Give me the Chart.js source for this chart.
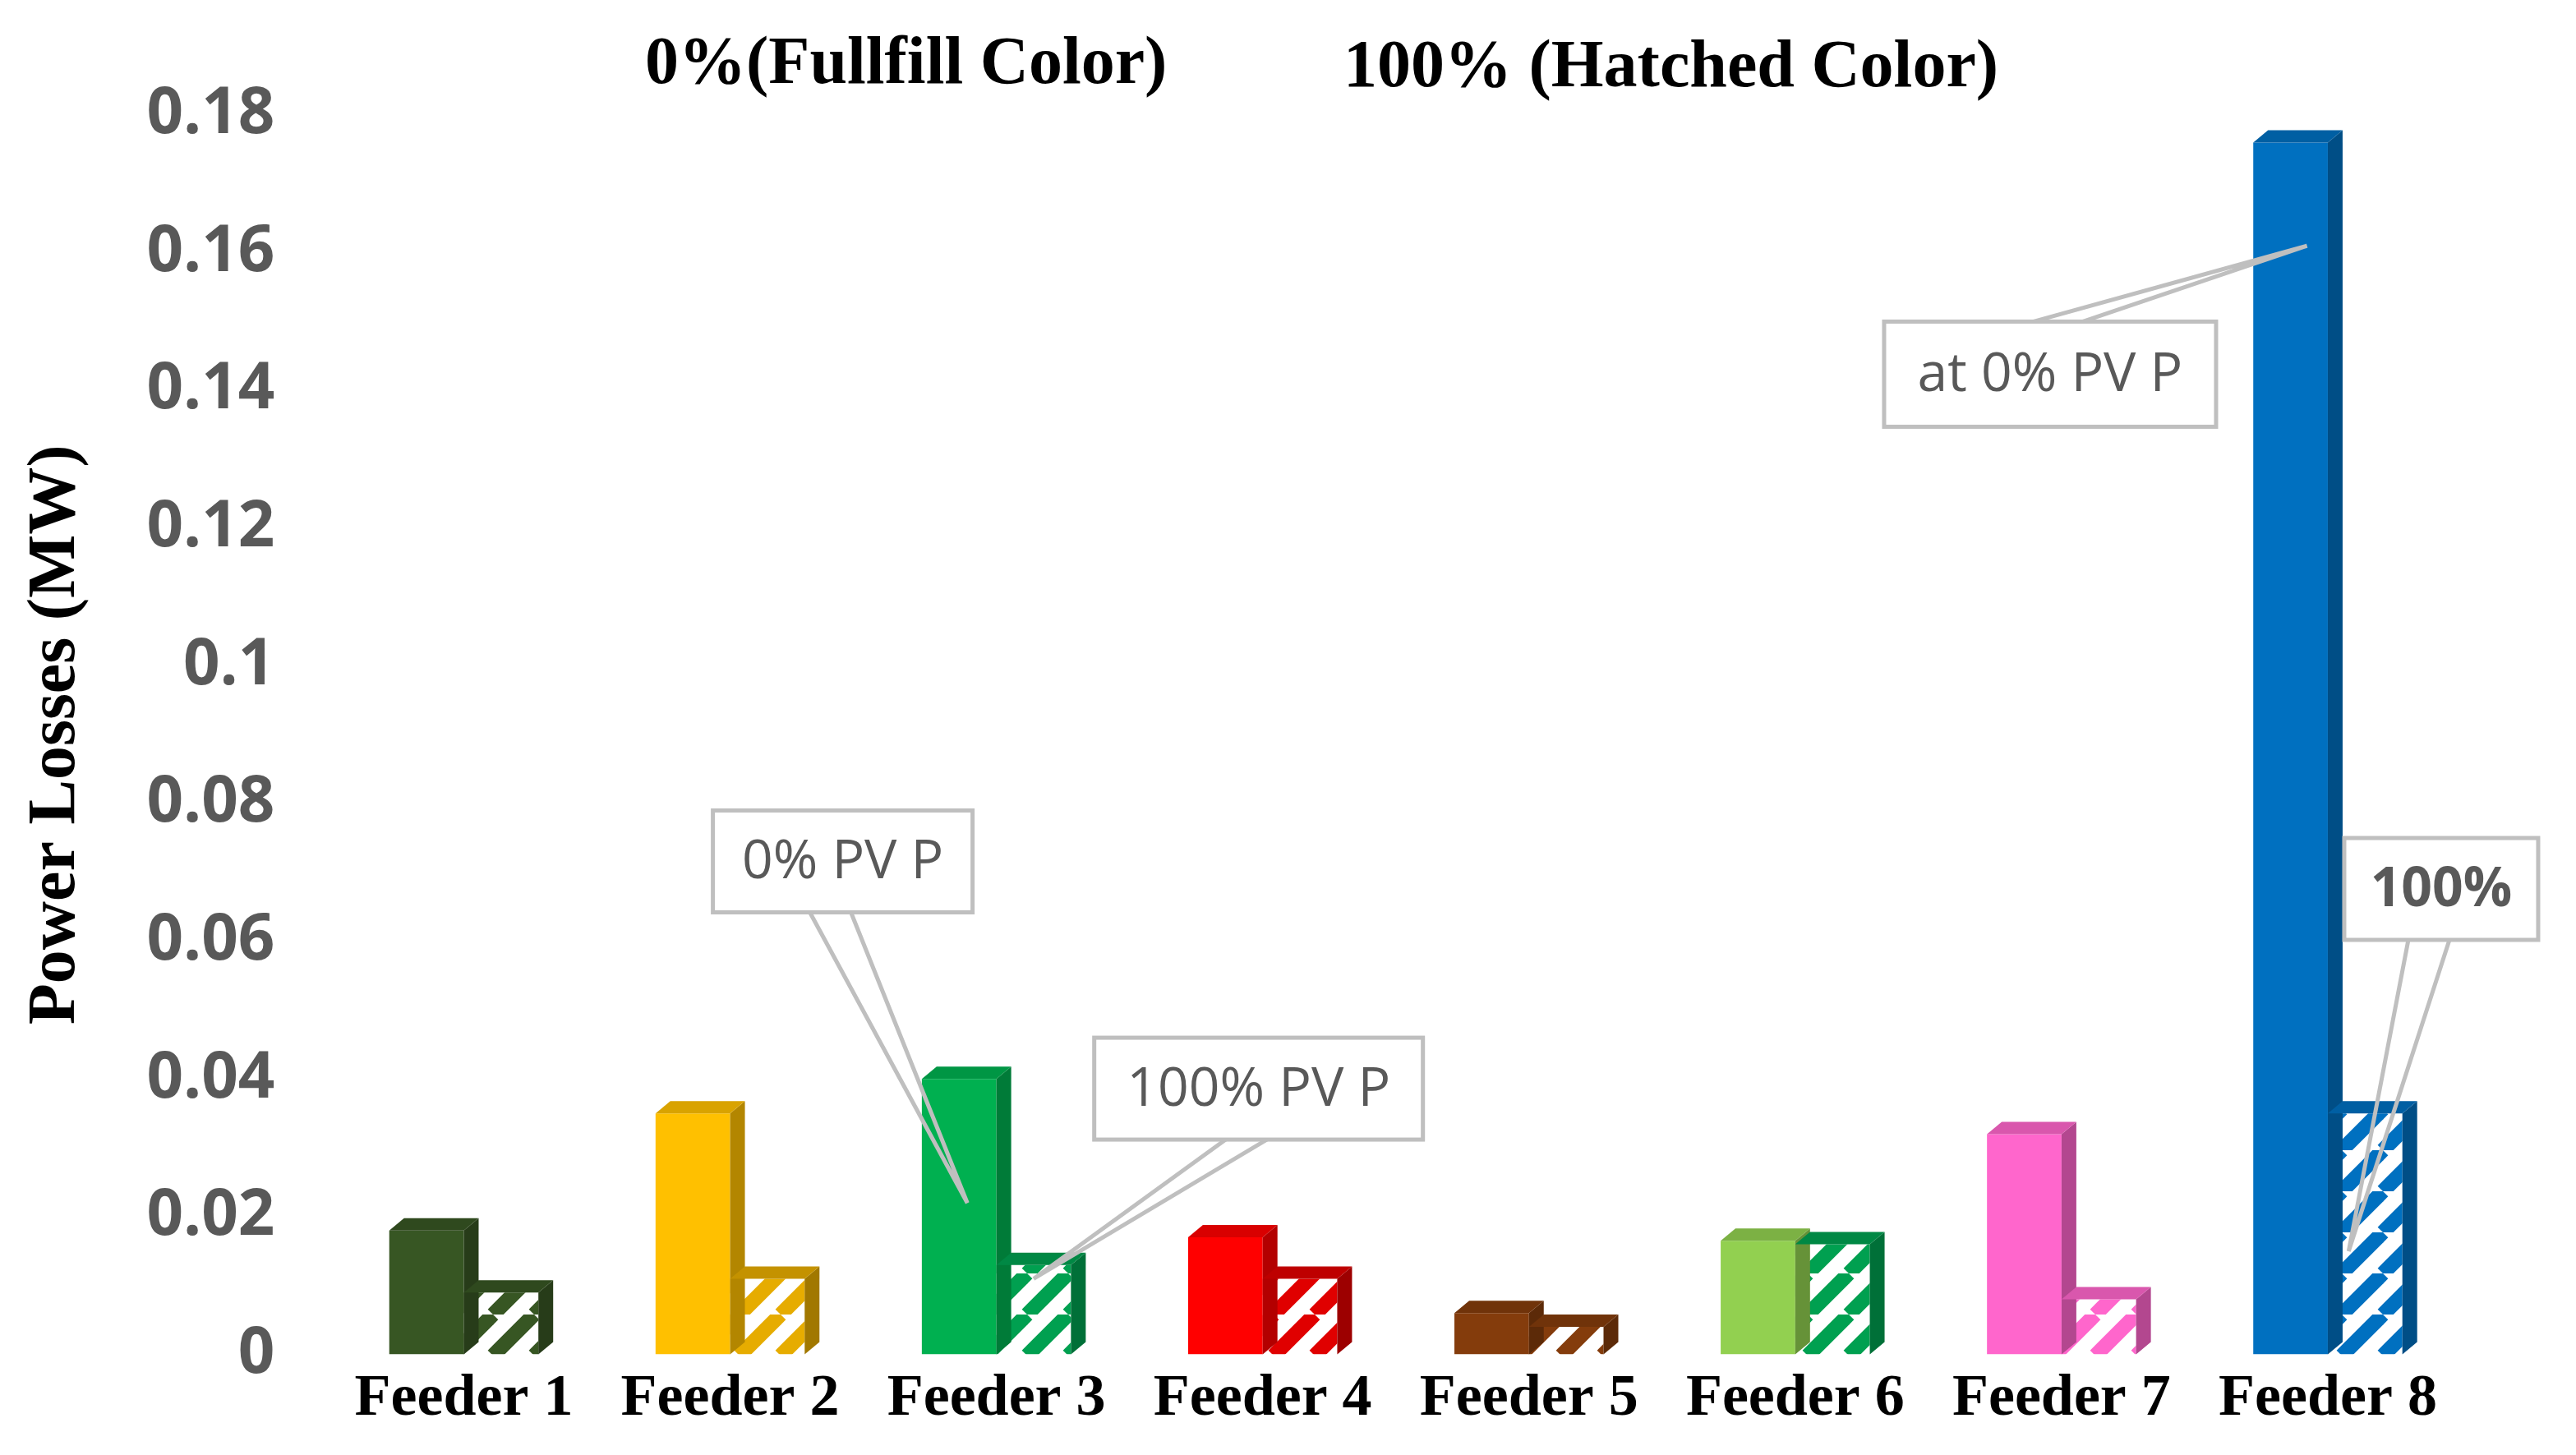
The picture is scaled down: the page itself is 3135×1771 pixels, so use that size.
<!DOCTYPE html>
<html><head><meta charset="utf-8">
<script src="https://cdn.jsdelivr.net/npm/chart.js@4/dist/chart.umd.min.js"></script>
<style>html,body{margin:0;padding:0;background:#fff}#wrap{width:3135px;height:1771px;position:relative}</style>
</head><body><div id="wrap"><canvas id="c" width="3135" height="1771"></canvas></div>
<script>
const categories=["Feeder 1","Feeder 2","Feeder 3","Feeder 4","Feeder 5","Feeder 6","Feeder 7","Feeder 8"];
const loss0=[0.018,0.035,0.040,0.017,0.006,0.0165,0.032,0.176];
const loss100=[0.009,0.011,0.013,0.011,0.004,0.016,0.008,0.035];
const colors=["#375623","#FFC000","#00B050","#FF0000","#843C0C","#92D050","#FF66CC","#0070C0"];
const hatchColors=["#375623","#E6AC00","#00A050","#E00000","#843C0C","#00A050","#FF66CC","#0070C0"];
const yTicks=[0,0.02,0.04,0.06,0.08,0.1,0.12,0.14,0.16,0.18];

function shade(hex,f){const n=parseInt(hex.slice(1),16);let r=n>>16,g=(n>>8)&255,b=n&255;
return `rgb(${Math.round(r*f)},${Math.round(g*f)},${Math.round(b*f)})`;}
function hatch(col){const s=50,cv=document.createElement('canvas');cv.width=s;cv.height=s;const x=cv.getContext('2d');
x.fillStyle='#fff';x.fillRect(0,0,s,s);x.strokeStyle=col;x.lineWidth=18;
for(let k=-1;k<=1;k++){x.beginPath();x.moveTo(k*s,s);x.lineTo(k*s+s,0);x.stroke();}
return x.createPattern(cv,'repeat');}
const ctx0=document.getElementById('c').getContext('2d');

const depth=30;
const bar3d={id:'bar3d',afterDatasetsDraw(ch){const c=ch.ctx;
 ch.data.datasets.forEach((ds,di)=>{ch.getDatasetMeta(di).data.forEach((b,i)=>{
  const col=di===0?colors[i]:hatchColors[i];const l=b.x-b.width/2,r=b.x+b.width/2,t=b.y,bt=b.base;
  c.save();c.fillStyle=shade(col,0.7);c.beginPath();c.moveTo(r,t);c.lineTo(r+depth*0.6,t-depth*0.5);c.lineTo(r+depth*0.6,bt-depth*0.5);c.lineTo(r,bt);c.closePath();c.fill();
  c.fillStyle=shade(col,0.85);c.beginPath();c.moveTo(l,t);c.lineTo(l+depth*0.6,t-depth*0.5);c.lineTo(r+depth*0.6,t-depth*0.5);c.lineTo(r,t);c.closePath();c.fill();c.restore();});});}};

const callouts={id:'callouts',afterDraw(ch){const c=ch.ctx,x=ch.scales.x,y=ch.scales.y;
 const m0=ch.getDatasetMeta(0).data,m1=ch.getDatasetMeta(1).data;
 const items=[
  {t:"0% PV P",bx:x.getPixelForValue(2)-345,by:y.getPixelForValue(0.079),w:316,h:124,px:m0[2].x+10,py:y.getPixelForValue(0.022),bold:false},
  {t:"100% PV P",bx:x.getPixelForValue(3)-205,by:y.getPixelForValue(0.046),w:400,h:124,px:m1[2].x,py:y.getPixelForValue(0.011),bold:false},
  {t:"at 0% PV P",bx:x.getPixelForValue(7)-540,by:y.getPixelForValue(0.150),w:404,h:128,px:m0[7].x+20,py:y.getPixelForValue(0.161),bold:false},
  {t:"100%",bx:x.getPixelForValue(7)+20,by:y.getPixelForValue(0.075),w:236,h:124,px:m1[7].x-20,py:y.getPixelForValue(0.015),bold:true}];
 items.forEach(it=>{c.save();c.strokeStyle='#BFBFBF';c.lineWidth=5;c.fillStyle='#fff';
  const cx=it.bx+it.w/2,by2=it.by+it.h;let a1,a2,ay;
  if(it.py>by2){a1=cx-40;a2=cx+10;ay=by2}else{a1=cx-20;a2=cx+40;ay=it.by}
  c.beginPath();c.moveTo(a1,ay);c.lineTo(it.px,it.py);c.lineTo(a2,ay);c.stroke();
  c.fillRect(it.bx,it.by,it.w,it.h);c.strokeRect(it.bx,it.by,it.w,it.h);
  c.fillStyle='#595959';c.font=(it.bold?'bold ':'')+'66px "Open Sans", sans-serif';c.textAlign='center';c.textBaseline='middle';
  c.fillText(it.t,cx,it.by+it.h/2+2);c.restore();});
 c.save();c.fillStyle='#000';c.font='bold 82px "Liberation Serif", serif';c.textBaseline='middle';
 c.fillText("0%(Fullfill Color)",785,80);c.fillText("100% (Hatched Color)",1635,84);c.restore();}};

new Chart(ctx0,{type:'bar',
 data:{labels:categories,datasets:[
  {label:'0%',data:loss0,backgroundColor:colors,categoryPercentage:0.56,barPercentage:1},
  {label:'100%',data:loss100,backgroundColor:hatchColors.map(hatch),categoryPercentage:0.56,barPercentage:1}]},
 options:{responsive:false,animation:false,devicePixelRatio:1,
  layout:{padding:{left:20,right:140,top:140,bottom:20}},
  plugins:{legend:{display:false},tooltip:{enabled:false}},
  scales:{
   x:{grid:{display:false},border:{display:false},ticks:{color:'#000',font:{family:'"Liberation Serif", serif',size:72,weight:'bold'},padding:4}},
   y:{min:0,max:0.18,afterBuildTicks:s=>{s.ticks=yTicks.map(v=>({value:v}))},grid:{display:false},border:{display:false},
    ticks:{color:'#595959',font:{family:'"Open Sans", sans-serif',size:78,weight:'bold'},padding:60,callback:v=>String(+v.toFixed(2))},
    title:{display:true,text:'Power Losses (MW)',color:'#000',font:{family:'"Liberation Serif", serif',size:82,weight:'bold'},padding:0}}}},
 plugins:[bar3d,callouts]});
</script></body></html>
